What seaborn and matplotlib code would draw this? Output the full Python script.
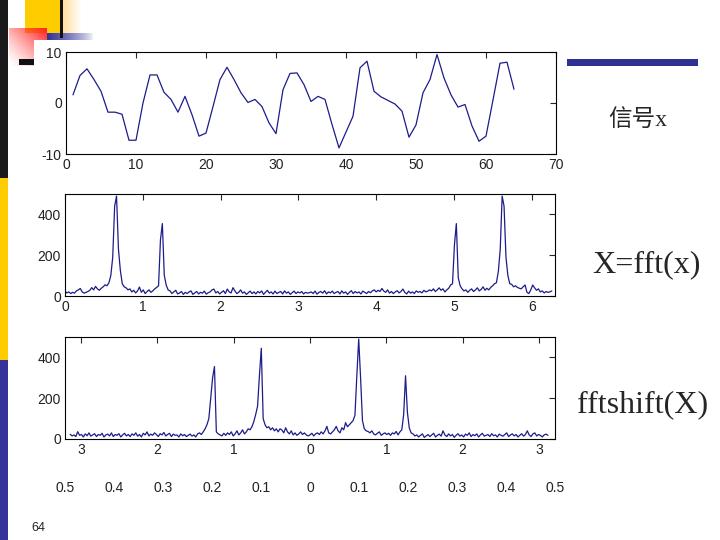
import numpy as np
import matplotlib
matplotlib.use("Agg")
import matplotlib.pyplot as plt
import seaborn as sns
from matplotlib.patches import Rectangle

# time signal x, samples 1..64
signal_n = list(range(1, 65))
signal_x = [1.6, 5.4, 6.7, 4.6, 2.3, -1.8, -1.8, -2.2, -7.3, -7.3,
            0.0, 5.5, 5.5, 2.1, 0.7, -1.8, 1.3, -2.3, -6.5, -5.9,
            -0.7, 4.6, 7.0, 4.6, 2.0, 0.1, 0.7, -0.7, -3.9, -6.0,
            2.6, 5.8, 5.9, 3.6, 0.3, 1.3, 0.7, -4.2, -8.8, -5.7,
            -2.6, 6.9, 8.2, 2.3, 1.2, 0.5, -0.2, -1.6, -6.7, -4.3,
            2.0, 4.6, 9.5, 4.9, 1.6, -0.8, -0.3, -4.5, -7.5, -6.5,
            0.6, 7.8, 8.0, 2.7]

# |fft(x)|, 256 bins over [0, 2pi)
fft_mag = [24, 15, 20, 12, 18, 14, 25, 30, 37, 20, 14, 18, 22, 28, 41, 30,
           47, 35, 28, 38, 45, 55, 50, 65, 100, 190, 440, 490, 230, 125, 60, 45,
           40, 30, 35, 20, 28, 15, 25, 44, 18, 30, 12, 22, 30, 18, 25, 35,
           42, 50, 275, 355, 102, 54, 30, 25, 12, 20, 28, 10, 15, 22, 8, 18,
           12, 20, 25, 8, 15, 22, 10, 18, 14, 24, 9, 16, 20, 30, 34, 15,
           22, 10, 18, 26, 12, 34, 20, 15, 41, 25, 12, 18, 30, 14, 20, 8,
           16, 24, 12, 20, 10, 22, 15, 25, 8, 18, 28, 14, 20, 10, 24, 12,
           18, 22, 10, 25, 14, 20, 8, 16, 24, 12, 20, 15, 22, 10, 18, 14,
           16, 20, 12, 24, 9, 18, 22, 14, 26, 10, 20, 15, 24, 12, 18, 22,
           10, 25, 14, 20, 8, 18, 26, 12, 22, 15, 20, 10, 24, 18, 12, 22,
           16, 25, 30, 20, 28, 22, 37, 24, 18, 30, 14, 22, 12, 20, 26, 15,
           22, 34, 18, 10, 24, 14, 20, 12, 25, 18, 22, 15, 28, 20, 24, 30,
           25, 35, 22, 30, 40, 28, 35, 20, 30, 38, 54, 60, 250, 355, 90, 50,
           35, 25, 30, 18, 28, 35, 22, 30, 40, 25, 32, 45, 28, 38, 30, 42,
           50, 60, 65, 120, 230, 490, 440, 190, 100, 60, 57, 45, 50, 42, 38, 35,
           45, 54, 18, 12, 30, 54, 40, 28, 35, 20, 25, 15, 22, 18, 20, 25]

# |fftshift(X)|, 256 bins over [-pi, pi)
shift_mag = [23, 15, 20, 12, 36, 18, 22, 10, 25, 16, 30, 14, 20, 26, 12, 22,
             18, 28, 10, 20, 24, 15, 30, 12, 22, 18, 26, 10, 20, 28, 15, 22,
             12, 25, 18, 30, 14, 22, 10, 28, 20, 35, 15, 24, 18, 30, 22, 12,
             26, 20, 32, 15, 22, 28, 12, 24, 18, 20, 10, 25, 16, 22, 12, 18,
             24, 14, 20, 10, 25, 30, 22, 35, 50, 70, 100, 200, 300, 355, 35, 25,
             20, 15, 28, 18, 30, 22, 35, 15, 25, 40, 20, 30, 45, 25, 35, 50,
             45, 60, 85, 120, 160, 310, 445, 100, 70, 55, 60, 45, 55, 40, 50, 35,
             50, 44, 30, 55, 35, 25, 40, 20, 30, 18, 25, 35, 22, 30, 20, 15,
             20, 28, 15, 25, 30, 22, 35, 25, 40, 62, 30, 25, 35, 45, 62, 40,
             30, 55, 45, 80, 60, 70, 80, 90, 117, 310, 490, 300, 90, 50, 40, 37,
             30, 40, 25, 20, 28, 35, 18, 25, 30, 22, 28, 18, 30, 25, 37, 20,
             35, 45, 120, 310, 130, 54, 30, 25, 15, 20, 10, 18, 25, 8, 15, 22,
             12, 20, 28, 10, 18, 24, 14, 40, 20, 12, 25, 15, 22, 8, 18, 26,
             14, 20, 10, 24, 18, 30, 12, 22, 16, 25, 10, 20, 28, 14, 18, 22,
             12, 26, 16, 20, 10, 24, 18, 14, 22, 30, 12, 20, 25, 15, 22, 10,
             18, 26, 14, 22, 40, 20, 12, 25, 30, 15, 22, 18, 10, 20, 24, 18]

# tick labels as they appear on the slide (minus signs lost)
shift_ticks = [-3, -2, -1, 0, 1, 2, 3]
shift_tick_labels = ["3", "2", "1", "0", "1", "2", "3"]
norm_freq = [-0.5, -0.4, -0.3, -0.2, -0.1, 0, 0.1, 0.2, 0.3, 0.4, 0.5]
norm_freq_labels = ["0.5", "0.4", "0.3", "0.2", "0.1", "0", "0.1", "0.2", "0.3", "0.4", "0.5"]

LINE = "#1c1c8a"
NAVY = "#2e3192"

sns.set_style("white")
plt.rcParams["font.family"] = ["Liberation Sans", "DejaVu Sans"]
plt.rcParams["axes.unicode_minus"] = False

fig = plt.figure(figsize=(7.2, 5.4), dpi=100)

# slide decoration, drawn in pixel coords
bg = fig.add_axes([0, 0, 1, 1], zorder=-5)
bg.set_xlim(0, 720)
bg.set_ylim(540, 0)
bg.axis("off")


def gradient(ax, x0, x1, y0, y1, rgb, alpha):
    img = np.zeros(alpha.shape + (4,))
    img[..., :3] = rgb
    img[..., 3] = alpha
    ax.imshow(img, extent=(x0, x1, y1, y0), interpolation="bilinear", aspect="auto", zorder=1)


bg.add_patch(Rectangle((0, 0), 8, 178, color="#1a1a1a", lw=0))
bg.add_patch(Rectangle((0, 178), 8, 182, color="#ffcc00", lw=0))
bg.add_patch(Rectangle((0, 360), 8, 180, color="#333399", lw=0))
bg.add_patch(Rectangle((25, 0), 35, 33, color="#ffcc00", lw=0))
gx = np.linspace(1, 0, 20)[None, :] * np.ones((4, 1))
gradient(bg, 63, 82, 0, 33, (1.0, 0.85, 0.55), gx * 0.8)
gradient(bg, 47, 95, 33, 40, (0.2, 0.2, 0.6), gx ** 0.7)
rx, ry = np.meshgrid(np.linspace(0, 1, 20), np.linspace(0, 1, 20))
gradient(bg, 9, 47, 28, 66, (1.0, 0.15, 0.15), np.clip((rx + (1 - ry)) / 2, 0, 1) ** 1.3)
bg.add_patch(Rectangle((60, 0), 3, 38, color="#111111", lw=0, zorder=2))
bg.add_patch(Rectangle((34, 40), 70, 30, color="white", lw=0, zorder=3))
bg.add_patch(Rectangle((19, 59), 15, 6, color="#111111", lw=0, zorder=4))
bg.add_patch(Rectangle((567, 59), 131, 7, color=NAVY, lw=0, zorder=4))
bg.text(38, 528, "64", fontsize=9, ha="center", va="center", color="#222222")

# right hand captions
bg.text(638, 120, "信号x", fontsize=17, ha="center", va="center",
        family=["Liberation Serif", "Noto Sans CJK SC"])
bg.text(646, 265, "X=fft(x)", fontsize=23, ha="center", va="center", family="Liberation Serif")
bg.text(643, 405, "fftshift(X)", fontsize=23, ha="center", va="center", family="Liberation Serif")

ax1 = fig.add_axes([66 / 720, 1 - 154 / 540, 490 / 720, 102 / 540])
ax2 = fig.add_axes([65 / 720, 1 - 296 / 540, 490 / 720, 102 / 540])
ax3 = fig.add_axes([65 / 720, 1 - 439 / 540, 490 / 720, 102 / 540])

fft_w = np.arange(len(fft_mag)) * 2 * np.pi / len(fft_mag)
shift_w = np.arange(len(shift_mag)) * 2 * np.pi / len(shift_mag) - np.pi

sns.lineplot(x=signal_n, y=signal_x, ax=ax1, color=LINE, linewidth=0.9)
sns.lineplot(x=fft_w, y=fft_mag, ax=ax2, color=LINE, linewidth=0.9)
sns.lineplot(x=shift_w, y=shift_mag, ax=ax3, color=LINE, linewidth=0.9)

ax1.set_xlim(0, 70)
ax1.set_ylim(-10, 10)
ax1.set_xticks(range(0, 71, 10))
ax1.set_yticks([-10, 0, 10])

ax2.set_xlim(0, 6.3)
ax2.set_ylim(0, 500)
ax2.set_xticks(range(0, 7))
ax2.set_yticks([0, 200, 400])

ax3.set_xlim(-3.21, 3.21)
ax3.set_ylim(0, 500)
ax3.set_xticks(shift_ticks)
ax3.set_xticklabels(shift_tick_labels)
ax3.set_yticks([0, 200, 400])

for ax in (ax1, ax2, ax3):
    ax.set_xlabel("")
    ax.set_ylabel("")
    ax.set_facecolor("white")
    for sp in ax.spines.values():
        sp.set_visible(True)
        sp.set_color("black")
        sp.set_linewidth(0.8)
    ax.tick_params(direction="in", length=4, width=0.8, top=True, right=True,
                   labelsize=10, labelcolor="#222222", pad=3)

# normalised frequency row under the last plot
for f, lab in zip(norm_freq, norm_freq_labels):
    ax3.text(f + 0.5, -0.48, lab, transform=ax3.transAxes, ha="center", va="center",
             fontsize=10, color="#222222")

fig.savefig("out.png", dpi=100)
